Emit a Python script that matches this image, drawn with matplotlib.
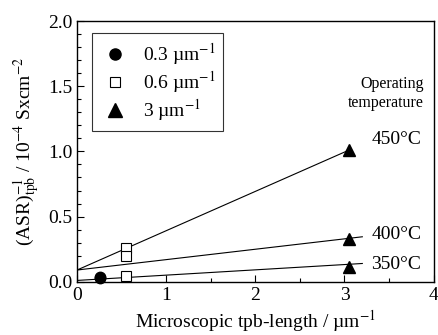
import matplotlib
matplotlib.use("Agg")
import matplotlib.pyplot as plt
from matplotlib.ticker import MultipleLocator
from matplotlib.lines import Line2D

plt.rcParams["font.family"] = ["Liberation Serif", "DejaVu Serif"]
plt.rcParams["mathtext.fontset"] = "stix"

# ------------------------------------------------------------
# Data
# ------------------------------------------------------------
circle_x = [0.26, 0.26]
circle_y = [0.025, 0.04]

square_x = [0.55, 0.55, 0.55]
square_y = [0.26, 0.195, 0.044]

tri_x = [3.05, 3.05, 3.05]
tri_y = [1.01, 0.33, 0.11]

# fit lines (start / end points)
fit_450_x = [0.0, 3.05]
fit_450_y = [0.09, 1.01]
fit_400_x = [0.0, 3.2]
fit_400_y = [0.09, 0.345]
fit_350_x = [0.0, 3.2]
fit_350_y = [0.01, 0.14]

temp_labels = ["450°C", "400°C", "350°C"]
temp_label_y = [1.09, 0.36, 0.13]

legend_labels = [r"0.3 µm$^{-1}$", r"0.6 µm$^{-1}$", r"3 µm$^{-1}$"]

# ------------------------------------------------------------
# Figure
# ------------------------------------------------------------
fig = plt.figure(figsize=(4.38, 3.35), dpi=100, facecolor="white")
ax = fig.add_axes([0.176, 0.159, 0.814, 0.778])

lw = 0.8
ax.plot(fit_450_x, fit_450_y, color="black", lw=lw)
ax.plot(fit_400_x, fit_400_y, color="black", lw=lw)
ax.plot(fit_350_x, fit_350_y, color="black", lw=lw)

ax.plot(circle_x, circle_y, "o", color="black", ms=7.5, ls="none", clip_on=False)
ax.plot(square_x, square_y, "s", mfc="white", mec="black", mew=0.8, ms=7, ls="none")
ax.plot(tri_x, tri_y, "^", color="black", ms=9, ls="none")

for lab, yy in zip(temp_labels, temp_label_y):
    ax.text(3.30, yy, lab, fontsize=14, va="center", ha="left")

ax.text(3.89, 1.52, "Operating", fontsize=11.5, ha="right", va="center")
ax.text(3.89, 1.37, "temperature", fontsize=11.5, ha="right", va="center")

handles = [
    Line2D([], [], marker="o", color="black", ls="none", ms=8),
    Line2D([], [], marker="s", mfc="white", mec="black", mew=0.8, ls="none", ms=7),
    Line2D([], [], marker="^", color="black", ls="none", ms=10),
]
leg = ax.legend(handles, legend_labels, loc="upper left",
                bbox_to_anchor=(0.043, 0.954), borderaxespad=0, fontsize=14,
                frameon=True, fancybox=False, edgecolor="black",
                handletextpad=0.7, borderpad=0.4, labelspacing=0.12,
                handlelength=1.5)
leg.get_frame().set_linewidth(0.8)

ax.set_xlim(0, 4)
ax.set_ylim(0, 2.0)
ax.xaxis.set_major_locator(MultipleLocator(1))
ax.xaxis.set_minor_locator(MultipleLocator(0.5))
ax.yaxis.set_major_locator(MultipleLocator(0.5))
ax.yaxis.set_minor_locator(MultipleLocator(0.1))
ax.yaxis.set_major_formatter(matplotlib.ticker.FormatStrFormatter("%.1f"))
ax.tick_params(which="both", direction="in", top=False, right=False,
               labelsize=14, width=0.8)
ax.tick_params(which="major", length=5)
ax.tick_params(which="minor", length=3)
for s in ax.spines.values():
    s.set_linewidth(1.0)

ax.set_xlabel(r"Microscopic tpb-length / µm$^{-1}$", fontsize=14, labelpad=3)
ax.set_ylabel(r"(ASR)$^{-1}_{\rm tpb}$ / 10$^{-4}$ Sxcm$^{-2}$", fontsize=14, labelpad=4)

fig.savefig("out.png", dpi=100, facecolor="white")
